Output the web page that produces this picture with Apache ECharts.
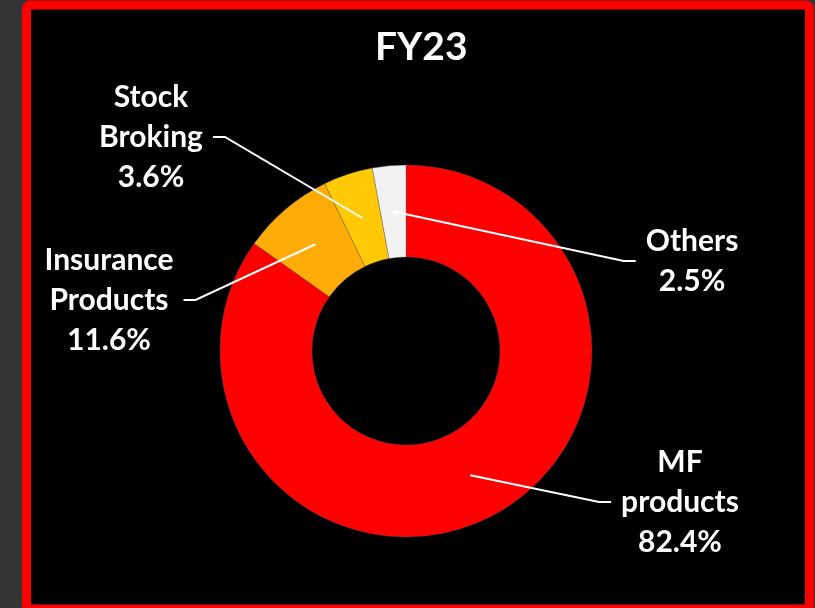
<!DOCTYPE html>
<html><head><meta charset="utf-8">
<script src="https://cdn.jsdelivr.net/npm/echarts@6/dist/echarts.min.js"></script>
<style>html,body{margin:0;padding:0;background:#353535;}#c{width:815px;height:608px;}</style>
</head><body><div id="c"></div>
<script>
// Data
const categories = ['MF\nproducts', 'Insurance\nProducts', 'Stock\nBroking', 'Others'];
const sliceValues = [84.8, 8.0, 4.3, 2.9];           // slice sizes as drawn
const labelPercents = ['82.4%', '11.6%', '3.6%', '2.5%']; // percentages printed on labels
const titleText = 'FY23';

const palette = ['#FF0000', '#FFAB08', '#FFC906', '#F2F2F2'];
const FONT = 'Lato, "Open Sans", sans-serif';
const CX = 406, CY = 351, R_IN = 94, R_OUT = 186;
// label text centre (x) and middle-line (y), side of pie
const anchors = [
  {x: 680, y: 502, side: 'right'},
  {x: 109, y: 300, side: 'left'},
  {x: 151, y: 137, side: 'left'},
  {x: 692, y: 261, side: 'right'}
];

const total = sliceValues.reduce((a, b) => a + b, 0);
const cum = [];
sliceValues.reduce((acc, v, i) => { cum[i] = acc; return acc + v; }, 0);

const pieData = (colorFn) => categories.map((c, i) => ({name: c, value: sliceValues[i], itemStyle: {color: colorFn(i)}}));

const chart = echarts.init(document.getElementById('c'), null, {renderer: 'canvas'});
chart.setOption({
  backgroundColor: '#353535',
  animation: false,
  graphic: [{
    type: 'rect', z: -10, silent: true,
    shape: {x: 26.5, y: 5, width: 783, height: 604, r: 4},
    style: {fill: '#000000', stroke: '#FF0000', lineWidth: 9}
  }],
  title: {
    text: titleText, left: 370, top: 23,
    textStyle: {color: '#FFFFFF', fontSize: 39, fontWeight: 'bold', fontFamily: FONT}
  },
  series: [{
    type: 'pie',
    z: 2,
    center: [CX, CY],
    radius: [R_IN, R_OUT],
    startAngle: 90,
    clockwise: true,
    data: pieData(i => palette[i]),
    itemStyle: {borderColor: 'rgba(90,90,90,0.6)', borderWidth: 0.6},
    label: {show: false},
    labelLine: {show: false}
  }, {
    type: 'pie',
    z: 5,
    silent: true,
    center: [CX, CY],
    radius: [R_IN, R_OUT],
    startAngle: 90,
    clockwise: true,
    avoidLabelOverlap: false,
    data: pieData(() => 'rgba(0,0,0,0)'),
    label: {
      show: true, position: 'outside',
      color: '#FFFFFF', fontSize: 30, fontWeight: 'bold', fontFamily: FONT,
      lineHeight: 40, align: 'center',
      formatter: p => p.name + '\n' + labelPercents[p.dataIndex]
    },
    labelLine: {show: true, smooth: false, lineStyle: {color: '#FFFFFF', width: 2}},
    labelLayout: function (p) {
      const i = p.dataIndex;
      const a = anchors[i];
      const mid = (cum[i] + sliceValues[i] / 2) / total * Math.PI * 2;
      const rm = (R_IN + R_OUT) / 2;
      const sx = CX + rm * Math.sin(mid), sy = CY - rm * Math.cos(mid);
      const w = p.labelRect.width;
      let endX, elbowX;
      if (a.side === 'left') { endX = a.x + w / 2 + 10; elbowX = endX + 12; }
      else { endX = a.x - w / 2 - 10; elbowX = endX - 12; }
      return {
        x: a.x, y: a.y, align: 'center', verticalAlign: 'middle',
        labelLinePoints: [[sx, sy], [elbowX, a.y], [endX, a.y]]
      };
    }
  }]
});
</script></body></html>
